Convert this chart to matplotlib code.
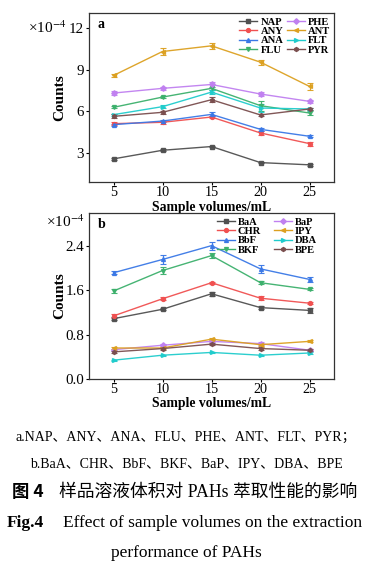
import matplotlib
matplotlib.use("Agg")
import matplotlib.pyplot as plt
from matplotlib.lines import Line2D
import numpy as np

volumes = [5, 10, 15, 20, 25]

names_a = ["NAP", "ANY", "ANA", "FLU", "PHE", "ANT", "FLT", "PYR"]
vals_a = {
    "NAP": [2.57, 3.19, 3.46, 2.30, 2.14],
    "ANY": [5.11, 5.21, 5.59, 4.44, 3.67],
    "ANA": [5.04, 5.30, 5.78, 4.70, 4.20],
    "FLU": [6.29, 7.03, 7.66, 6.41, 5.88],
    "PHE": [7.32, 7.66, 7.94, 7.25, 6.72],
    "ANT": [8.59, 10.32, 10.73, 9.55, 7.80],
    "FLT": [5.76, 6.34, 7.39, 6.24, 6.17],
    "PYR": [5.64, 5.93, 6.84, 5.74, 6.17],
}
err_a = {
    "NAP": [0.08, 0.08, 0.06, 0.05, 0.05],
    "ANY": [0.10, 0.10, 0.10, 0.15, 0.15],
    "ANA": [0.08, 0.08, 0.15, 0.10, 0.08],
    "FLU": [0.08, 0.10, 0.12, 0.35, 0.15],
    "PHE": [0.12, 0.10, 0.15, 0.12, 0.12],
    "ANT": [0.08, 0.28, 0.20, 0.18, 0.28],
    "FLT": [0.08, 0.10, 0.12, 0.30, 0.10],
    "PYR": [0.15, 0.10, 0.18, 0.10, 0.10],
}

names_b = ["BaA", "CHR", "BbF", "BKF", "BaP", "IPY", "DBA", "BPE"]
vals_b = {
    "BaA": [1.09, 1.26, 1.54, 1.29, 1.24],
    "CHR": [1.14, 1.45, 1.74, 1.46, 1.37],
    "BbF": [1.92, 2.16, 2.41, 1.99, 1.80],
    "BKF": [1.59, 1.96, 2.23, 1.74, 1.62],
    "BaP": [0.53, 0.61, 0.68, 0.64, 0.52],
    "IPY": [0.56, 0.56, 0.72, 0.62, 0.68],
    "DBA": [0.34, 0.43, 0.48, 0.43, 0.47],
    "BPE": [0.49, 0.55, 0.63, 0.55, 0.52],
}
err_b = {
    "BaA": [0.03, 0.02, 0.04, 0.03, 0.05],
    "CHR": [0.03, 0.03, 0.02, 0.04, 0.02],
    "BbF": [0.03, 0.08, 0.07, 0.07, 0.04],
    "BKF": [0.04, 0.06, 0.05, 0.03, 0.02],
    "BaP": [0.02, 0.02, 0.02, 0.02, 0.02],
    "IPY": [0.02, 0.02, 0.02, 0.02, 0.02],
    "DBA": [0.01, 0.01, 0.01, 0.01, 0.01],
    "BPE": [0.02, 0.02, 0.02, 0.02, 0.02],
}

colors = ["#505050", "#f05050", "#3a78e6", "#3cb06c",
          "#c080f0", "#dca020", "#20cccc", "#7a4e4e"]
markers = ["s", "o", "^", "v", "D", "<", ">", "h"]

plt.rcParams["font.family"] = ["Liberation Serif", "DejaVu Serif"]
plt.rcParams["mathtext.fontset"] = "stix"

fig = plt.figure(figsize=(3.72, 5.70), dpi=100)
W, H = 372, 570

def make_ax(top, bottom):
    left, right = 89, 334
    return fig.add_axes([left / W, 1 - bottom / H, (right - left) / W, (bottom - top) / H])

def draw(ax, names, vals, errs, ylim, yticks, yfmt, letter, top, bottom, leg_anchor, colsp):
    for i, n in enumerate(names):
        ax.errorbar(volumes, vals[n], yerr=errs[n], color=colors[i], marker=markers[i],
                    markersize=2.8, linewidth=1.0, elinewidth=0.9, capsize=2, capthick=0.8,
                    alpha=0.95)
    ax.set_xlim(2.5, 27.5)
    ax.set_ylim(*ylim)
    ax.set_xticks(volumes)
    ax.set_yticks(yticks)
    ax.set_yticklabels([yfmt.format(t) for t in yticks])
    ax.tick_params(direction="out", length=2, width=0.8, labelsize=10.2, pad=1)
    ax.tick_params(axis="y", labelsize=10.8, pad=1.5)
    for s in ax.spines.values():
        s.set_linewidth(0.9)
        s.set_color("#333333")
    hgt = bottom - top
    ax.set_xlabel("Sample volumes/mL", fontsize=9.8, fontweight="bold")
    ax.xaxis.set_label_coords(0.5, -25 / hgt)
    ax.xaxis.label.set_va("center")
    ax.set_ylabel("Counts", fontsize=11, fontweight="bold")
    ax.yaxis.set_label_coords((60 - 89) / 245, 0.5)
    ax.yaxis.label.set_va("center")
    ax.text(0.035, 0.97, letter, transform=ax.transAxes, fontsize=10, fontweight="bold",
            va="top", ha="left")
    handles = [Line2D([], [], color=colors[i], marker=markers[i], markersize=2.8,
                      linewidth=1.0) for i in range(len(names))]
    leg = ax.legend(handles, names, ncol=2, loc="upper right", bbox_to_anchor=leg_anchor,
                    fontsize=7.6, frameon=False, handlelength=1.7, handletextpad=0.3,
                    columnspacing=colsp, labelspacing=0.0, borderaxespad=0.0,
                    borderpad=0.0)
    for t in leg.get_texts():
        t.set_fontweight("bold")

ax1 = make_ax(13, 182)
draw(ax1, names_a, vals_a, err_a, (0.9, 13.1), [3, 6, 9, 12], "{:g}", "a", 13, 182,
     (0.985, 0.975), 0.35)
fig.text(67 / W, 1 - 28 / H, r"×10$^{-4}$", fontsize=11, va="center", ha="right")

ax2 = make_ax(213, 379)
draw(ax2, names_b, vals_b, err_b, (0.0, 3.0), [0.0, 0.8, 1.6, 2.4], "{:.1f}", "b", 213, 379,
     (0.93, 0.975), 1.2)
fig.text(85 / W, 1 - 222 / H, r"×10$^{-4}$", fontsize=11, va="center", ha="right")

cap_fam = ["Liberation Serif", "Noto Sans CJK SC"]
fig.text(0.5, 1 - 437 / H, "a.NAP、ANY、ANA、FLU、PHE、ANT、FLT、PYR；",
         ha="center", va="center", fontsize=10, family=cap_fam)
fig.text(0.5, 1 - 464 / H, "b.BaA、CHR、BbF、BKF、BaP、IPY、DBA、BPE",
         ha="center", va="center", fontsize=10, family=cap_fam)
fig.text(12 / W, 1 - 492 / H, "图 4", ha="left", va="center", fontsize=12.5,
         fontweight="bold", family=["Noto Sans CJK SC", "DejaVu Sans"])
fig.text(59 / W, 1 - 492 / H, "样品溶液体积对 PAHs 萃取性能的影响", ha="left", va="center",
         fontsize=12.8, family=cap_fam)
fig.text(7 / W, 1 - 523 / H, "Fig.4", ha="left", va="center", fontsize=12.5,
         fontweight="bold")
fig.text(63 / W, 1 - 523 / H, "Effect of sample volumes on the extraction",
         ha="left", va="center", fontsize=12.5)
fig.text(0.5, 1 - 553 / H, "performance of PAHs", ha="center", va="center", fontsize=12.5)

fig.savefig("out.png", dpi=100)
